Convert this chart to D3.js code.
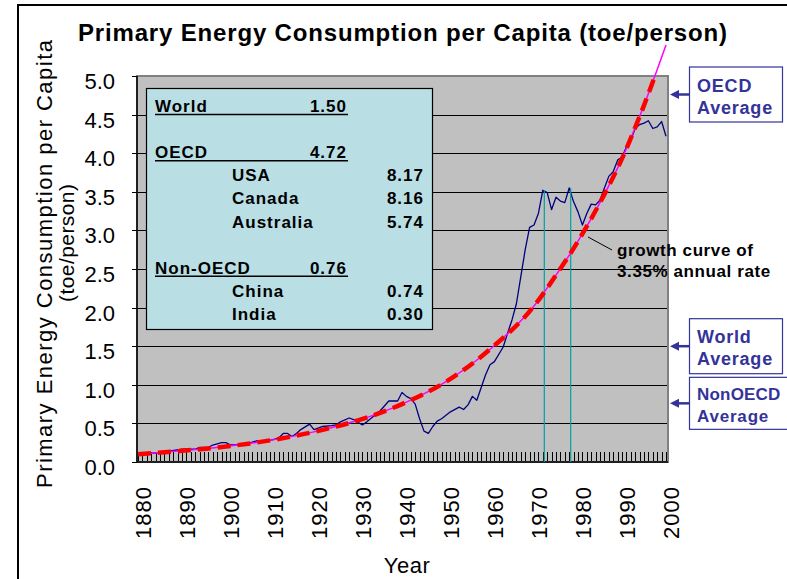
<!DOCTYPE html>
<html>
<head>
<meta charset="utf-8">
<script src="https://cdn.jsdelivr.net/npm/d3@7"></script>
<style>
  body { margin: 0; background: #fff; }
  text { font-family: "Liberation Sans", Arial, sans-serif; }
</style>
</head>
<body>
<div id="chart"></div>
<script>
// Per-capita primary energy (toe/person).
var years = [1880, 1882, 1885, 1887, 1890, 1893, 1894, 1896, 1897, 1899, 1900, 1901, 1904, 1907,
  1910, 1912, 1913, 1914, 1915, 1916, 1917, 1919, 1920, 1922, 1924, 1925, 1926, 1928, 1929,
  1931, 1932, 1935, 1937, 1939, 1940, 1941, 1942, 1943, 1944, 1945, 1946, 1947, 1948, 1949,
  1951, 1953, 1954, 1955, 1956, 1957, 1959, 1960, 1961, 1963, 1964, 1965, 1966, 1967, 1968,
  1969, 1970, 1971, 1972, 1973, 1974, 1975, 1976, 1977, 1978, 1979, 1980, 1981, 1982, 1983,
  1984, 1985, 1986, 1987, 1988, 1989, 1990, 1991, 1992, 1993, 1994, 1995, 1996, 1997, 1998,
  1999, 2000];
var perCapita = [0.12, 0.11, 0.12, 0.14, 0.165, 0.165, 0.19, 0.19, 0.22, 0.25, 0.25, 0.22, 0.22, 0.275,
  0.28, 0.31, 0.37, 0.37, 0.33, 0.37, 0.42, 0.49, 0.42, 0.46, 0.47, 0.48, 0.52, 0.57, 0.55,
  0.48, 0.52, 0.66, 0.79, 0.79, 0.90, 0.85, 0.82, 0.75, 0.56, 0.40, 0.37, 0.46, 0.53, 0.56,
  0.65, 0.71, 0.68, 0.74, 0.85, 0.80, 1.13, 1.26, 1.30, 1.49, 1.67, 1.84, 2.05, 2.40, 2.75,
  3.04, 3.07, 3.22, 3.52, 3.49, 3.27, 3.43, 3.38, 3.36, 3.55, 3.37, 3.24, 3.07, 3.22, 3.34,
  3.33, 3.39, 3.55, 3.70, 3.76, 3.91, 3.95, 4.08, 4.17, 4.32, 4.37, 4.39, 4.42, 4.32, 4.34,
  4.41, 4.22];

// Growth curve (3.35% per year).
var growthYears = [1880, 1890, 1900, 1910, 1920, 1930, 1940, 1950, 1960, 1970, 1975, 1980, 1985, 1990, 1995, 2000];
var growthValues = [0.10, 0.145, 0.20, 0.28, 0.39, 0.54, 0.75, 1.04, 1.46, 2.02, 2.42, 2.86, 3.36, 3.93, 4.62, 5.40];

// Oil shock markers.
var markerYears = [1972, 1978];

var yTicks = [0, 0.5, 1, 1.5, 2, 2.5, 3, 3.5, 4, 4.5, 5];
var yTickLabels = ["0.0", "0.5", "1.0", "1.5", "2.0", "2.5", "3.0", "3.5", "4.0", "4.5", "5.0"];
var xTickYears = [1880, 1890, 1900, 1910, 1920, 1930, 1940, 1950, 1960, 1970, 1980, 1990, 2000];

// Inset table.
var insetNames = ["World", "OECD", "USA", "Canada", "Australia", "Non-OECD", "China", "India"];
var insetValues = ["1.50", "4.72", "8.17", "8.16", "5.74", "0.76", "0.74", "0.30"];
var insetLevels = [0, 0, 1, 1, 1, 0, 1, 1];
var insetRows = [0, 2, 3, 4, 5, 7, 8, 9];

// Average call-outs on the right.
var averageNames = ["OECD", "World", "NonOECD"];
var averageValues = [4.72, 1.50, 0.76];

var width = 787, height = 579;
var plot = { left: 137, right: 668, top: 76, bottom: 462 };

var svg = d3.select("#chart").append("svg")
    .attr("width", width)
    .attr("height", height);

// outer frame
svg.append("rect")
    .attr("x", 18).attr("y", 5)
    .attr("width", 820).attr("height", 620)
    .attr("fill", "#fff")
    .attr("stroke", "#000")
    .attr("stroke-width", 2);

var x = d3.scaleLinear().domain([1880, 2000]).range([plot.left + 1, plot.right - 2]);
var y = d3.scaleLinear().domain([0, 5]).range([plot.bottom, plot.top]);

svg.append("defs").append("clipPath").attr("id", "plotclip")
    .append("rect")
    .attr("x", plot.left).attr("y", plot.top)
    .attr("width", plot.right - plot.left).attr("height", plot.bottom - plot.top);

// plot background
svg.append("rect")
    .attr("x", plot.left).attr("y", plot.top)
    .attr("width", plot.right - plot.left).attr("height", plot.bottom - plot.top)
    .attr("fill", "#C0C0C0");

// gridlines
svg.append("g").selectAll("line")
    .data(yTicks.slice(1, -1))
    .enter().append("line")
    .attr("x1", plot.left).attr("x2", plot.right)
    .attr("y1", function(d) { return Math.round(y(d)) + 0.5; })
    .attr("y2", function(d) { return Math.round(y(d)) + 0.5; })
    .attr("stroke", "#000")
    .attr("stroke-width", 1);

// yearly ticks along the bottom (inside)
var yearTicks = d3.range(1880, 2001);
svg.append("g").selectAll("line")
    .data(yearTicks)
    .enter().append("line")
    .attr("x1", function(d) { return Math.round(x(d)) + 0.5; })
    .attr("x2", function(d) { return Math.round(x(d)) + 0.5; })
    .attr("y1", plot.bottom - 10).attr("y2", plot.bottom)
    .attr("stroke", "#000")
    .attr("stroke-width", 1);

// plot border
svg.append("rect")
    .attr("x", plot.left).attr("y", plot.top)
    .attr("width", plot.right - plot.left).attr("height", plot.bottom - plot.top)
    .attr("fill", "none")
    .attr("stroke", "#808080")
    .attr("stroke-width", 2);

// y axis
var yAxis = svg.append("g");
yAxis.append("line")
    .attr("x1", plot.left).attr("x2", plot.left)
    .attr("y1", plot.top).attr("y2", plot.bottom)
    .attr("stroke", "#000").attr("stroke-width", 1.5);
yAxis.append("line")
    .attr("x1", plot.left).attr("x2", plot.right)
    .attr("y1", plot.bottom).attr("y2", plot.bottom)
    .attr("stroke", "#000").attr("stroke-width", 1.5);
yAxis.selectAll(".tick")
    .data(yTicks)
    .enter().append("line")
    .attr("x1", plot.left - 5).attr("x2", plot.left)
    .attr("y1", function(d) { return Math.round(y(d)) + 0.5; })
    .attr("y2", function(d) { return Math.round(y(d)) + 0.5; })
    .attr("stroke", "#000");
yAxis.selectAll("text")
    .data(yTicks)
    .enter().append("text")
    .attr("x", 115)
    .attr("y", function(d) { return y(d) + 13; })
    .attr("text-anchor", "end")
    .attr("font-size", 22)
    .text(function(d, i) { return yTickLabels[i]; });

// x labels (rotated)
svg.append("g").selectAll("text")
    .data(xTickYears)
    .enter().append("text")
    .attr("transform", function(d) { return "translate(" + (x(d) + 5) + ",486) rotate(-90)"; })
    .attr("dy", "0.35em")
    .attr("text-anchor", "end")
    .attr("font-size", 22)
    .attr("letter-spacing", 1)
    .text(function(d) { return d; });

svg.append("text")
    .attr("x", 407).attr("y", 573)
    .attr("text-anchor", "middle")
    .attr("font-size", 22)
    .attr("letter-spacing", 0.5)
    .text("Year");

// y axis title
svg.append("text")
    .attr("transform", "translate(52,264) rotate(-90)")
    .attr("text-anchor", "middle")
    .attr("font-size", 22)
    .attr("textLength", 448)
    .attr("lengthAdjust", "spacing")
    .text("Primary Energy Consumption per Capita");
svg.append("text")
    .attr("transform", "translate(74,243) rotate(-90)")
    .attr("text-anchor", "middle")
    .attr("font-size", 21)
    .attr("textLength", 118)
    .attr("lengthAdjust", "spacing")
    .text("(toe/person)");

// title
svg.append("text")
    .attr("x", 78).attr("y", 41)
    .attr("font-size", 24)
    .attr("font-weight", "bold")
    .attr("textLength", 649)
    .attr("lengthAdjust", "spacing")
    .text("Primary Energy Consumption per Capita (toe/person)");

// inset table
var inset = svg.append("g");
inset.append("rect")
    .attr("x", 146.5).attr("y", 88.5)
    .attr("width", 286).attr("height", 241)
    .attr("fill", "#B9DFE4")
    .attr("stroke", "#000")
    .attr("stroke-width", 1.2);
insetNames.forEach(function(name, i) {
    var by = 112 + 23.1 * insetRows[i];
    var lvl = insetLevels[i];
    inset.append("text")
        .attr("x", lvl ? 232 : 155).attr("y", by)
        .attr("font-size", 17).attr("font-weight", "bold")
        .attr("letter-spacing", 1)
        .text(name);
    inset.append("text")
        .attr("x", lvl ? 424 : 347).attr("y", by)
        .attr("text-anchor", "end")
        .attr("font-size", 17).attr("font-weight", "bold")
        .attr("letter-spacing", 1)
        .text(insetValues[i]);
    if (!lvl) {
        inset.append("line")
            .attr("x1", 155).attr("x2", 348)
            .attr("y1", by + 2.5).attr("y2", by + 2.5)
            .attr("stroke", "#000").attr("stroke-width", 1.5);
    }
});

// energy line
var line = d3.line()
    .x(function(d) { return x(d[0]); })
    .y(function(d) { return y(d[1]); });

svg.append("path")
    .datum(d3.zip(years, perCapita))
    .attr("d", line)
    .attr("fill", "none")
    .attr("stroke", "#000080")
    .attr("stroke-width", 1.3)
    .attr("stroke-linejoin", "round");

// oil shock markers
svg.append("g").selectAll("line")
    .data(markerYears)
    .enter().append("line")
    .attr("x1", function(d) { return x(d) + 1.5; })
    .attr("x2", function(d) { return x(d) + 1.5; })
    .attr("y1", function(d) { return y(perCapita[years.indexOf(d)]); })
    .attr("y2", plot.bottom)
    .attr("stroke", "#00A0A0")
    .attr("stroke-width", 1.2);

// growth curve
var curve = d3.line()
    .x(function(d) { return x(d[0]); })
    .y(function(d) { return y(d[1]); })
    .curve(d3.curveMonotoneX);
var growth = d3.zip(growthYears, growthValues);

svg.append("path")
    .datum(growth)
    .attr("d", curve)
    .attr("fill", "none")
    .attr("stroke", "#FF00FF")
    .attr("stroke-width", 1.5);

svg.append("path")
    .datum(growth)
    .attr("d", curve)
    .attr("clip-path", "url(#plotclip)")
    .attr("fill", "none")
    .attr("stroke", "#FF0000")
    .attr("stroke-width", 4.5)
    .attr("stroke-dasharray", "13,7");

// growth curve note
svg.append("line")
    .attr("x1", 588).attr("y1", 237)
    .attr("x2", 612).attr("y2", 250)
    .attr("stroke", "#000").attr("stroke-width", 1);
svg.append("text")
    .attr("x", 617).attr("y", 256)
    .attr("font-size", 17).attr("font-weight", "bold")
    .attr("letter-spacing", 0.6)
    .text("growth curve of");
svg.append("text")
    .attr("x", 617).attr("y", 277)
    .attr("font-size", 17).attr("font-weight", "bold")
    .attr("letter-spacing", 0.6)
    .text("3.35% annual rate");

// average call-outs
var calloutColor = "#333399";
averageNames.forEach(function(name, i) {
    var cy = i === 0 ? 94.5 : y(averageValues[i]);
    var boxH = i === 2 ? 52 : 55;
    var boxW = i === 2 ? 100 : 93;
    var fs = i === 2 ? 17 : 18;
    var g = svg.append("g");
    g.append("rect")
        .attr("x", 689.5).attr("y", cy - boxH / 2)
        .attr("width", boxW).attr("height", boxH)
        .attr("fill", "#fff")
        .attr("stroke", calloutColor)
        .attr("stroke-width", 1.2);
    g.append("line")
        .attr("x1", 689).attr("x2", 676)
        .attr("y1", cy).attr("y2", cy)
        .attr("stroke", calloutColor).attr("stroke-width", 2.5);
    g.append("path")
        .attr("d", "M670," + cy + "L679," + (cy - 4.5) + "L679," + (cy + 4.5) + "Z")
        .attr("fill", calloutColor);
    g.append("text")
        .attr("x", 697).attr("y", cy - 3)
        .attr("font-size", fs).attr("font-weight", "bold")
        .attr("letter-spacing", i === 2 ? 0.2 : 0.8)
        .attr("fill", calloutColor)
        .text(name);
    g.append("text")
        .attr("x", 697).attr("y", cy + 19)
        .attr("font-size", fs).attr("font-weight", "bold")
        .attr("letter-spacing", 0.8)
        .attr("fill", calloutColor)
        .text("Average");
});
</script>
</body>
</html>
